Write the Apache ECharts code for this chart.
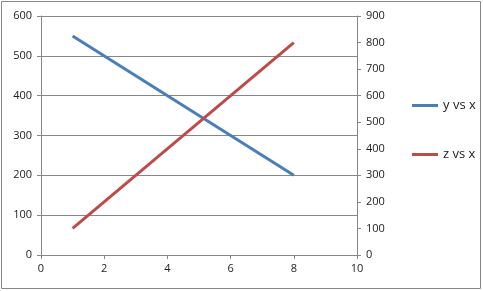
<!DOCTYPE html>
<html><head><meta charset="utf-8">
<script src="https://cdn.jsdelivr.net/npm/echarts@6/dist/echarts.min.js"></script>
<style>html,body{margin:0;padding:0;background:#fff}#c{width:483px;height:291px}</style>
</head><body><div id="c"></div>
<script>
const xValues = [1, 8];
const yValues = [550, 200];
const zValues = [100, 800];
const seriesNames = ['y vs x', 'z vs x'];
const xTicks = [0, 2, 4, 6, 8, 10];
const leftTicks = [0, 100, 200, 300, 400, 500, 600];
const rightTicks = [0, 100, 200, 300, 400, 500, 600, 700, 800, 900];

const axisGray = '#868686';
const font = { fontFamily: 'Open Sans', fontSize: 11, color: '#222' };
const chart = echarts.init(document.getElementById('c'), null, { renderer: 'canvas' });
chart.setOption({
  animation: false,
  backgroundColor: '#fff',
  graphic: [{ type: 'rect', shape: { x: 1.5, y: 1.5, width: 479, height: 287 }, style: { fill: 'none', stroke: axisGray, lineWidth: 1 }, silent: true }],
  grid: { left: 41, right: 126, top: 16, bottom: 36, containLabel: false },
  legend: {
    orient: 'vertical', left: 407, top: 94, itemGap: 36,
    icon: 'rect', itemWidth: 26, itemHeight: 3,
    textStyle: { fontFamily: 'Open Sans', fontSize: 13, color: '#222' },
    data: seriesNames
  },
  xAxis: {
    type: 'value', min: xTicks[0], max: xTicks[xTicks.length - 1], interval: 2,
    axisLine: { lineStyle: { color: axisGray } },
    axisTick: { show: true, inside: false, length: 4, lineStyle: { color: axisGray } },
    axisLabel: Object.assign({ margin: 8 }, font),
    splitLine: { show: false }
  },
  yAxis: [{
    type: 'value', position: 'left', min: leftTicks[0], max: leftTicks[leftTicks.length - 1], interval: 100,
    axisLine: { show: true, lineStyle: { color: axisGray } },
    axisTick: { show: true, inside: false, length: 4, lineStyle: { color: axisGray } },
    axisLabel: Object.assign({ margin: 9 }, font),
    splitLine: { show: true, lineStyle: { color: axisGray, width: 1 } }
  }, {
    type: 'value', position: 'right', min: rightTicks[0], max: rightTicks[rightTicks.length - 1], interval: 100,
    axisLine: { show: true, lineStyle: { color: axisGray } },
    axisTick: { show: true, inside: false, length: 4, lineStyle: { color: axisGray } },
    axisLabel: Object.assign({ margin: 9 }, font),
    splitLine: { show: false }
  }],
  series: [{
    name: seriesNames[0], type: 'line', yAxisIndex: 0, showSymbol: false, symbol: 'none',
    data: xValues.map((x, i) => [x, yValues[i]]),
    lineStyle: { color: '#4A7EBB', width: 3 }, itemStyle: { color: '#4A7EBB' }
  }, {
    name: seriesNames[1], type: 'line', yAxisIndex: 1, showSymbol: false, symbol: 'none',
    data: xValues.map((x, i) => [x, zValues[i]]),
    lineStyle: { color: '#BE4B48', width: 3 }, itemStyle: { color: '#BE4B48' }
  }]
});
</script></body></html>
